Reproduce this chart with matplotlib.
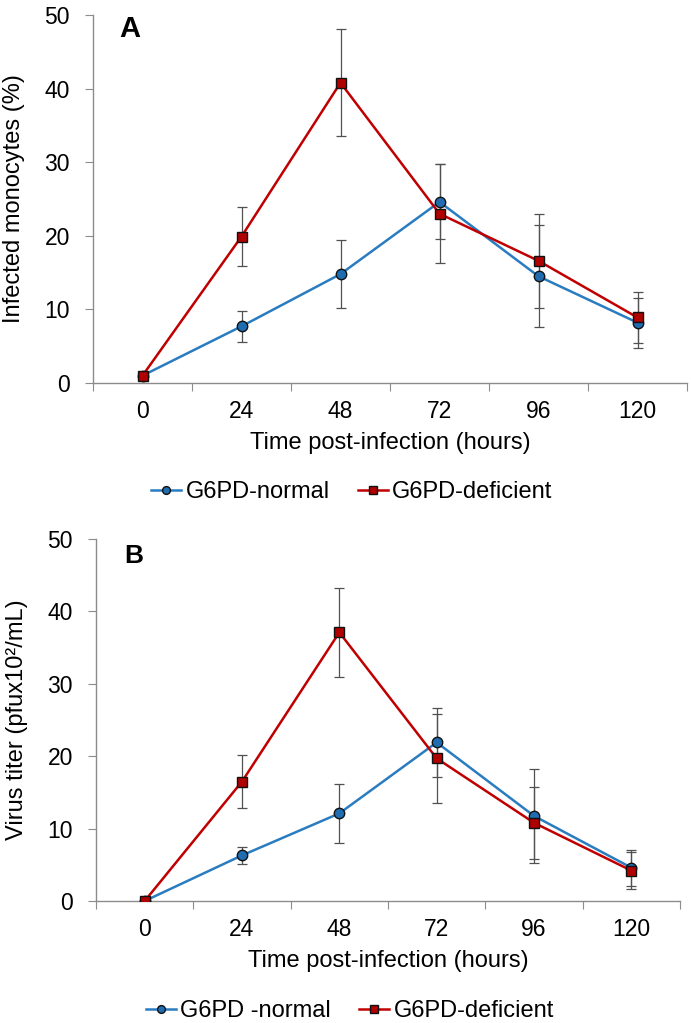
import matplotlib
matplotlib.use("Agg")
import matplotlib.pyplot as plt
import numpy as np
from matplotlib.ticker import FixedLocator, NullFormatter, FixedFormatter

plt.rcParams['font.family'] = ['Liberation Sans', 'DejaVu Sans']

categories = ["0", "24", "48", "72", "96", "120"]

# Panel A: infected monocytes (%)
a_normal = [1.0, 7.7, 14.8, 24.6, 14.5, 8.2]
a_normal_err = [0.0, 2.1, 4.6, 5.1, 6.9, 3.4]
a_def = [1.0, 19.9, 40.8, 23.0, 16.6, 8.9]
a_def_err = [0.0, 4.05, 7.3, 6.7, 6.4, 3.4]

# Panel B: virus titer
b_normal = [0.0, 6.3, 12.1, 21.9, 11.75, 4.6]
b_normal_err = [0.0, 1.15, 4.1, 4.8, 6.5, 2.5]
b_def = [0.0, 16.5, 37.1, 19.7, 10.8, 4.2]
b_def_err = [0.0, 3.65, 6.2, 6.1, 4.95, 2.5]

BLUE_LINE = "#2a7cc0"
BLUE_FACE = "#1f6db0"
RED_LINE = "#c00000"
RED_FACE = "#b00000"
ERR = "#505050"
SPINE = "#8c8c8c"

W, H = 691, 1023
fig = plt.figure(figsize=(W / 100, H / 100), dpi=100)


def ax_rect(l, t, r, b):
    return [l / W, 1 - b / H, (r - l) / W, (b - t) / H]


def draw(ax, normal, nerr, dfc, derr, ylabel, letter, lsize, lpos, labels):
    x = np.arange(len(categories)) + 0.5
    ax.errorbar(x, normal, yerr=nerr, fmt='none', ecolor=ERR, elinewidth=0.9,
                capsize=3.5, capthick=0.9, zorder=2)
    ax.errorbar(x, dfc, yerr=derr, fmt='none', ecolor=ERR, elinewidth=0.9,
                capsize=3.5, capthick=0.9, zorder=2)
    ax.plot(x, normal, '-', color=BLUE_LINE, lw=1.8, marker='o', ms=7.5,
            mfc=BLUE_FACE, mec='#111111', mew=1.0, zorder=3, label=labels[0])
    ax.plot(x, dfc, '-', color=RED_LINE, lw=1.8, marker='s', ms=7,
            mfc=RED_FACE, mec='#111111', mew=1.0, zorder=4, label=labels[1])
    ax.set_xlim(0, len(categories))
    ax.set_ylim(0, 50)
    ax.set_yticks([0, 10, 20, 30, 40, 50])
    ax.xaxis.set_major_locator(FixedLocator(np.arange(len(categories) + 1)))
    ax.xaxis.set_major_formatter(NullFormatter())
    ax.xaxis.set_minor_locator(FixedLocator(x))
    ax.xaxis.set_minor_formatter(FixedFormatter(categories))
    ax.tick_params(axis='x', which='major', length=6, color=SPINE, direction='out')
    ax.tick_params(axis='x', which='minor', length=0, pad=12, labelsize=16.5)
    ax.tick_params(axis='y', length=6, color=SPINE, direction='out', labelsize=16.5, pad=10.5)
    for s in ['top', 'right']:
        ax.spines[s].set_visible(False)
    for s in ['left', 'bottom']:
        ax.spines[s].set_color(SPINE)
        ax.spines[s].set_linewidth(1.0)
    ax.set_xlabel("Time post-infection (hours)", fontsize=17, labelpad=7)
    ax.set_ylabel(ylabel, fontsize=17, labelpad=14)
    ax.text(lpos[0], lpos[1], letter, transform=ax.transAxes, fontsize=lsize,
            fontweight='bold', va='top', ha='left')


axA = fig.add_axes(ax_rect(93, 15, 687, 383))
draw(axA, a_normal, a_normal_err, a_def, a_def_err, "Infected monocytes (%)", "A",
     21, (0.045, 1.0), ["G6PD-normal", "G6PD-deficient"])
axB = fig.add_axes(ax_rect(96, 539, 680, 901))
draw(axB, b_normal, b_normal_err, b_def, b_def_err, "Virus titer (pfux10²/mL)", "B",
     19, (0.049, 0.985), ["G6PD -normal", "G6PD-deficient"])

for ax, xc, yc in [(axA, 352, 492), (axB, 350, 1011)]:
    h, l = ax.get_legend_handles_labels()
    fig.legend(h, l, loc='center', bbox_to_anchor=(xc / W, 1 - yc / H), ncol=2,
               frameon=False, fontsize=17, handlelength=1.25, handletextpad=0.2,
               columnspacing=1.2, borderpad=0, markerscale=0.75)

fig.savefig("out.png", dpi=100)
